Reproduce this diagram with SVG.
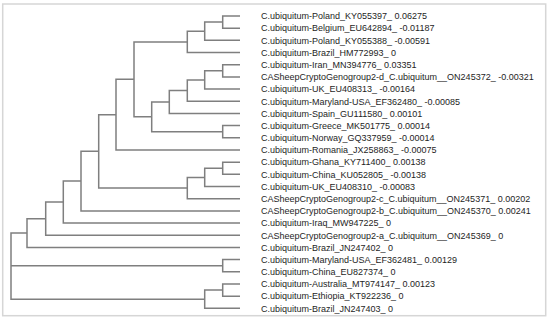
<svg xmlns="http://www.w3.org/2000/svg" width="550" height="320" viewBox="0 0 550 320">
<style>
.frame{fill:#ffffff;stroke:#d6d6d6;stroke-width:1.5}
.br{fill:none;stroke:#7f7f7f;stroke-width:1.5}
.lb{font-family:"Liberation Sans",Arial,sans-serif;font-size:9px;fill:#1e1e1e}
</style>
<rect class="frame" x="2.7" y="4" width="543" height="311.7"/>
<g id="connectors" class="br">
<path d="M240 16 H222.7 V28.18 H240"/>
<path d="M222.7 22.09 H204.7 V40.36 H240"/>
<path d="M204.7 31.23 H187.3 V52.54 H240"/>
<path d="M240 64.72 H222.7 V76.9 H240"/>
<path d="M222.7 70.81 H204.7 V89.08 H240"/>
<path d="M204.7 79.95 H187.3 V101.26 H240"/>
<path d="M187.3 90.6 H169.3 V113.44 H240"/>
<path d="M240 125.62 H222.7 V137.8 H240"/>
<path d="M169.3 102.02 H151.7 V131.71 H222.7"/>
<path d="M187.3 41.88 H134 V116.87 H151.7"/>
<path d="M134 79.37 H116 V149.98 H240"/>
<path d="M240 162.16 H222.7 V174.34 H240"/>
<path d="M222.7 168.25 H204.7 V186.52 H240"/>
<path d="M204.7 177.39 H187.3 V198.7 H240"/>
<path d="M116 114.68 H98.7 V188.04 H187.3"/>
<path d="M98.7 151.36 H81 V210.88 H240"/>
<path d="M81 181.12 H63.3 V223.06 H240"/>
<path d="M63.3 202.09 H45.7 V235.24 H240"/>
<path d="M45.7 218.67 H27 V247.42 H240"/>
<path d="M240 259.6 H222.7 V271.78 H240"/>
<path d="M240 283.96 H222.7 V296.14 H240"/>
<path d="M222.7 290.05 H204.7 V308.32 H240"/>
<path d="M27 233.04 H11 V299.19 H204.7"/>
<path d="M11 265.69 H222.7"/>
</g>
<g id="n1"><text class="lb" x="261" y="19.3">C.ubiquitum-Poland_KY055397_ 0.06275</text></g>
<g id="n2"><text class="lb" x="261" y="31.48">C.ubiquitum-Belgium_EU642894_ -0.01187</text></g>
<g id="n3"><text class="lb" x="261" y="43.66">C.ubiquitum-Poland_KY055388_ -0.00591</text></g>
<g id="n4"><text class="lb" x="261" y="55.84">C.ubiquitum-Brazil_HM772993_ 0</text></g>
<g id="n5"><text class="lb" x="261" y="68.02">C.ubiquitum-Iran_MN394776_ 0.03351</text></g>
<g id="n6"><text class="lb" x="261" y="80.2">CASheepCryptoGenogroup2-d_C.ubiquitum__ON245372_ -0.00321</text></g>
<g id="n7"><text class="lb" x="261" y="92.38">C.ubiquitum-UK_EU408313_ -0.00164</text></g>
<g id="n8"><text class="lb" x="261" y="104.56">C.ubiquitum-Maryland-USA_EF362480_ -0.00085</text></g>
<g id="n9"><text class="lb" x="261" y="116.74">C.ubiquitum-Spain_GU111580_ 0.00101</text></g>
<g id="n10"><text class="lb" x="261" y="128.92">C.ubiquitum-Greece_MK501775_ 0.00014</text></g>
<g id="n11"><text class="lb" x="261" y="141.1">C.ubiquitum-Norway_GQ337959_ -0.00014</text></g>
<g id="n12"><text class="lb" x="261" y="153.28">C.ubiquitum-Romania_JX258863_ -0.00075</text></g>
<g id="n13"><text class="lb" x="261" y="165.46">C.ubiquitum-Ghana_KY711400_ 0.00138</text></g>
<g id="n14"><text class="lb" x="261" y="177.64">C.ubiquitum-China_KU052805_ -0.00138</text></g>
<g id="n15"><text class="lb" x="261" y="189.82">C.ubiquitum-UK_EU408310_ -0.00083</text></g>
<g id="n16"><text class="lb" x="261" y="202">CASheepCryptoGenogroup2-c_C.ubiquitum__ON245371_ 0.00202</text></g>
<g id="n17"><text class="lb" x="261" y="214.18">CASheepCryptoGenogroup2-b_C.ubiquitum__ON245370_ 0.00241</text></g>
<g id="n18"><text class="lb" x="261" y="226.36">C.ubiquitum-Iraq_MW947225_ 0</text></g>
<g id="n19"><text class="lb" x="261" y="238.54">CASheepCryptoGenogroup2-a_C.ubiquitum__ON245369_ 0</text></g>
<g id="n20"><text class="lb" x="261" y="250.72">C.ubiquitum-Brazil_JN247402_ 0</text></g>
<g id="n21"><text class="lb" x="261" y="262.9">C.ubiquitum-Maryland-USA_EF362481_ 0.00129</text></g>
<g id="n22"><text class="lb" x="261" y="275.08">C.ubiquitum-China_EU827374_ 0</text></g>
<g id="n23"><text class="lb" x="261" y="287.26">C.ubiquitum-Australia_MT974147_ 0.00123</text></g>
<g id="n24"><text class="lb" x="261" y="299.44">C.ubiquitum-Ethiopia_KT922236_ 0</text></g>
<g id="n25"><text class="lb" x="261" y="311.62">C.ubiquitum-Brazil_JN247403_ 0</text></g>
</svg>
